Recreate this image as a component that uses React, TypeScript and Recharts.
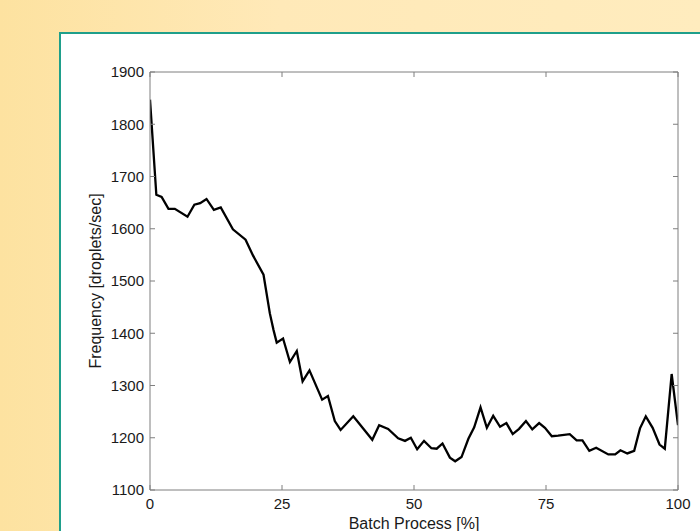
import React from "react";
import { LineChart, Line, XAxis, YAxis, Label } from "recharts";

const batchPercent = [
  0, 1.2, 2.2, 3.5, 4.7, 7.1, 8.4, 9.5, 10.7, 12.1, 13.4, 15.7, 18.1, 19.5, 21.5,
  22.7, 23.4, 24, 25.2, 26.5, 27.8, 28.9, 30.2, 32.6, 33.7, 35, 36.1, 38.5, 42.1,
  43.4, 45.1, 47, 48.3, 49.4, 50.6, 51.9, 53.3, 54.3, 55.4, 56.8, 57.8, 59, 60.3,
  61.4, 62.6, 63.8, 65, 66.3, 67.5, 68.7, 69.9, 71.2, 72.4, 73.7, 74.8, 76.1, 77.3,
  79.5, 80.8, 81.9, 83.2, 84.5, 86.8, 88.1, 89.1, 90.4, 91.7, 92.8, 93.9, 95.2,
  96.5, 97.5, 98.8, 100,
];
const frequency = [
  1847, 1665, 1661, 1638, 1638, 1623, 1646, 1649, 1657, 1636, 1641, 1599, 1579, 1549,
  1512, 1438, 1406, 1382, 1390, 1345, 1366, 1308, 1329, 1273, 1280, 1232, 1215, 1241,
  1196, 1224, 1217, 1199, 1194, 1200, 1178, 1194, 1180, 1179, 1189, 1162, 1155, 1163,
  1198, 1220, 1258, 1219, 1242, 1221, 1228, 1207, 1217, 1232, 1216, 1228, 1219, 1203,
  1204, 1207, 1195, 1195, 1175, 1181, 1168, 1168, 1176, 1170, 1175, 1218, 1241, 1219,
  1187, 1179, 1322, 1224,
];
const xTicks = [0, 25, 50, 75, 100];
const yTicks = [1100, 1200, 1300, 1400, 1500, 1600, 1700, 1800, 1900];

const data = batchPercent.map((x, i) => ({ x, y: frequency[i] }));

const FONT = "'Liberation Sans', Arial, Helvetica, sans-serif";
const AXIS = "#7f7f7f";
const emptyTick = () => <g />;

export default function App() {
  return (
    <div
      style={{
        position: "absolute",
        left: 0,
        top: 0,
        width: 700,
        height: 531,
        overflow: "hidden",
        background: "linear-gradient(to right, #fde2a0 0%, #ffe9b8 40%, #ffecbe 100%)",
      }}
    >
      <div
        style={{
          position: "absolute",
          left: 59,
          top: 32,
          width: 700,
          height: 560,
          background: "#ffffff",
          border: "2px solid #1f9f8b",
          boxSizing: "border-box",
        }}
      />
      <div style={{ position: "absolute", left: 0, top: 0 }}>
        <LineChart
          width={700}
          height={531}
          data={data}
          margin={{ top: 62, right: 12, left: 0, bottom: 0 }}
          style={{ fontFamily: FONT }}
        >
          <XAxis
            dataKey="x"
            type="number"
            domain={[0, 100]}
            ticks={xTicks}
            interval={0}
            height={41}
            stroke={AXIS}
            tickSize={-5}
            tickMargin={13}
            tick={{ fill: "#1a1a1a", fontSize: 15, fontFamily: FONT }}
            allowDataOverflow
          >
            <Label
              value="Batch Process [%]"
              position="insideBottom"
              offset={2}
              style={{ fill: "#1a1a1a", fontSize: 16, fontFamily: FONT }}
            />
          </XAxis>
          <XAxis
            xAxisId="top"
            dataKey="x"
            orientation="top"
            type="number"
            domain={[0, 100]}
            ticks={xTicks}
            interval={0}
            height={10}
            stroke={AXIS}
            tickSize={-5}
            tick={emptyTick}
            allowDataOverflow
          />
          <YAxis
            type="number"
            domain={[1100, 1900]}
            ticks={yTicks}
            interval={0}
            width={150}
            stroke={AXIS}
            tickSize={-5}
            tickMargin={11}
            tick={{ fill: "#1a1a1a", fontSize: 15, fontFamily: FONT }}
            allowDataOverflow
          >
            <Label
              value="Frequency [droplets/sec]"
              angle={-90}
              position="center"
              dx={20}
              style={{ fill: "#1a1a1a", fontSize: 16, fontFamily: FONT, textAnchor: "middle" }}
            />
          </YAxis>
          <YAxis
            yAxisId="right"
            orientation="right"
            type="number"
            domain={[1100, 1900]}
            ticks={yTicks}
            interval={0}
            width={10}
            stroke={AXIS}
            tickSize={-5}
            tick={emptyTick}
            allowDataOverflow
          />
          <Line
            xAxisId="top"
            yAxisId="right"
            type="linear"
            dataKey="y"
            stroke="none"
            strokeWidth={0}
            dot={false}
            activeDot={false}
            isAnimationActive={false}
          />
          <Line
            type="linear"
            dataKey="y"
            stroke="#000000"
            strokeWidth={2.3}
            dot={false}
            isAnimationActive={false}
          />
        </LineChart>
      </div>
    </div>
  );
}
